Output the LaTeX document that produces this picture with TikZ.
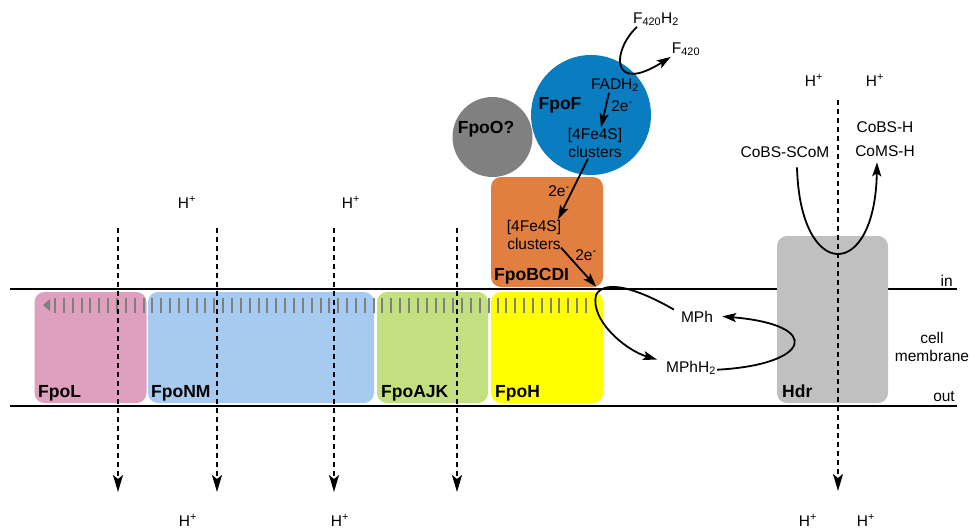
\documentclass[tikz,border=0pt]{standalone}
\usepackage{fontspec}
\setmainfont{Liberation Sans}
\usepackage{tikz}
\usetikzlibrary{arrows.meta}
\definecolor{fpopink}{HTML}{DFA0C0}
\definecolor{fpoblue}{HTML}{A7CAF0}
\definecolor{fpogreen}{HTML}{C2E07F}
\definecolor{fpoyellow}{HTML}{FFFF00}
\definecolor{fpoorange}{HTML}{E07F3F}
\definecolor{fpofblue}{HTML}{0A7DC0}
\definecolor{fpogray}{HTML}{808080}
\definecolor{hdrgray}{HTML}{C0C0C0}
\definecolor{tickgray}{HTML}{7F7F7F}

\begin{document}
\begin{tikzpicture}[x=1pt, y=-1pt,
    txt/.style={font=\fontsize{15.5}{17.5}\selectfont, inner sep=1pt},
    bold/.style={font=\fontsize{17.5}{20}\selectfont\bfseries, inner sep=0pt},
    subunit/.style={rounded corners=10pt, inner sep=0pt},
    flow/.style={-{Stealth[length=14pt,width=9pt,inset=3pt]}, line width=1.8pt},
    proton/.style={-{Stealth[length=17pt,width=10pt,inset=4pt]}, line width=1.8pt, dash pattern=on 5pt off 4pt}]
        \useasboundingbox (0,0) rectangle (970,528);
        % membrane
        \coordinate (inL) at (10,289);
        \coordinate (inR) at (957,289);
        \coordinate (outL) at (10,406);
        \coordinate (outR) at (957,406);
        \draw[line width=1.8pt] (inL) -- (inR);
        \draw[line width=1.8pt] (outL) -- (outR);
        % subunits
        \node[subunit, fill=fpopink, minimum width=112pt, minimum height=111pt] (fpoL) at (90.5,347.5) {};
        \node[subunit, fill=fpoblue, minimum width=226pt, minimum height=111pt] (fpoNM) at (261,347.5) {};
        \node[subunit, fill=fpogreen, minimum width=111pt, minimum height=111pt] (fpoAJK) at (432.5,347.5) {};
        \node[subunit, fill=fpoyellow, minimum width=112pt, minimum height=111pt] (fpoH) at (547,347.5) {};
        \node[subunit, fill=fpoorange, minimum width=112pt, minimum height=110pt] (fpoBCDI) at (547,232) {};
        \node[subunit, fill=hdrgray, minimum width=111pt, minimum height=167pt] (hdr) at (832.5,319.5) {};
        \node[circle, fill=fpogray, minimum size=80pt, inner sep=0pt] (fpoO) at (492.5,137) {};
        \node[circle, fill=fpofblue, minimum size=120pt, inner sep=0pt] (fpoF) at (591,115) {};
        % tick row
        \fill[tickgray] (43,305) -- (50,299) -- (50,311) -- cycle;
        \foreach \i in {0,...,60}
            \draw[tickgray, line width=2pt] ({55+8.85*\i},298) -- ({55+8.85*\i},313);
        % proton paths
        \foreach \px [count=\i] in {118,217,334,457} {
            \coordinate (pin\i) at (\px,228);
            \coordinate (pout\i) at (\px,492);
            \draw[proton] (pin\i) -- (pout\i);
        }
        \coordinate (hdrin) at (838,100);
        \coordinate (hdrout) at (838,491);
        \draw[proton] (hdrin) -- (hdrout);
        % names
        \node[bold, anchor=base west] (fpoLname) at (38,397) {FpoL};
        \node[bold, anchor=base west] (fpoNMname) at (151,397) {FpoNM};
        \node[bold, anchor=base west] (fpoAJKname) at (381,397) {FpoAJK};
        \node[bold, anchor=base west] (fpoHname) at (495,397) {FpoH};
        \node[bold, anchor=base west] (fpoBCDIname) at (494,280) {FpoBCDI};
        \node[bold, anchor=base west] (hdrname) at (782,397) {Hdr};
        \node[bold, anchor=base] (fpoOname) at (486,133) {FpoO?};
        \node[bold, anchor=base] (fpoFname) at (560,109) {FpoF};
        % labels
        \node[txt, anchor=base east] (inlbl) at (954,286) {in};
        \node[txt, anchor=base east] (outlbl) at (956,401) {out};
        \node[txt, align=center] (cellmem) at (932,347) {cell\\membrane};
        \node[txt, anchor=base] (hA) at (187,208) {H\textsuperscript{+}};
        \node[txt, anchor=base] (hB) at (351,208) {H\textsuperscript{+}};
        \node[txt, anchor=base] (hC) at (188,526) {H\textsuperscript{+}};
        \node[txt, anchor=base] (hD) at (340,526) {H\textsuperscript{+}};
        \node[txt, anchor=base] (hE) at (814,86) {H\textsuperscript{+}};
        \node[txt, anchor=base] (hF) at (875,86) {H\textsuperscript{+}};
        \node[txt, anchor=base] (hG) at (808,526) {H\textsuperscript{+}};
        \node[txt, anchor=base] (hH) at (866,526) {H\textsuperscript{+}};
        \node[txt, anchor=base] (fh) at (656,23) {F\textsubscript{420}H\textsubscript{2}};
        \node[txt, anchor=base] (f) at (686,53) {F\textsubscript{420}};
        \node[txt, anchor=base] (fadh) at (615,89) {FADH\textsubscript{2}};
        \node[txt, anchor=base] (eF) at (622,111) {2e\textsuperscript{-}};
        \node[txt, align=center] (clusF) at (595,143) {[4Fe4S]\\clusters};
        \node[txt, anchor=base] (eBC) at (559,196) {2e\textsuperscript{-}};
        \node[txt, align=center] (clusBC) at (534,235) {[4Fe4S]\\clusters};
        \node[txt, anchor=base] (eH) at (586,260) {2e\textsuperscript{-}};
        \node[txt, anchor=base] (mph) at (697,322) {MPh};
        \node[txt, anchor=base] (mphh) at (691,372) {MPhH\textsubscript{2}};
        \node[txt, anchor=base] (cobsscom) at (785,157) {CoBS-SCoM};
        \node[txt, anchor=base] (cobsh) at (885,132) {CoBS-H};
        \node[txt, anchor=base] (comsh) at (885,156) {CoMS-H};
        % electron and substrate flows
        \draw[flow] ([xshift=-19pt]fh.south) .. controls (612,50) and (610,95) .. (f.south west);
        \draw[flow] ([xshift=-6pt]fadh.south) -- ([xshift=6pt]clusF.north);
        \draw[flow] ([xshift=-7pt]clusF.south) -- ([xshift=24pt]clusBC.north);
        \draw[flow] ([xshift=27pt,yshift=3pt]clusBC.south) -- ([xshift=-7pt,yshift=5pt]fpoH.north east);
        \draw[flow] ([xshift=-6pt]mph.north west) .. controls (640,290) and (605,278) .. (596,295)
            .. controls (590,320) and (625,350) .. ([xshift=-8pt]mphh.north west);
        \draw[flow] ([yshift=-2pt]mphh.east) .. controls (810,365) and (825,325) .. ([xshift=8pt]mph.east);
        \draw[flow] ([xshift=12pt,yshift=-9pt]cobsscom.south) .. controls (800,282) and (875,282)
            .. ([xshift=-8pt,yshift=-5pt]comsh.south);
\end{tikzpicture}
\end{document}
